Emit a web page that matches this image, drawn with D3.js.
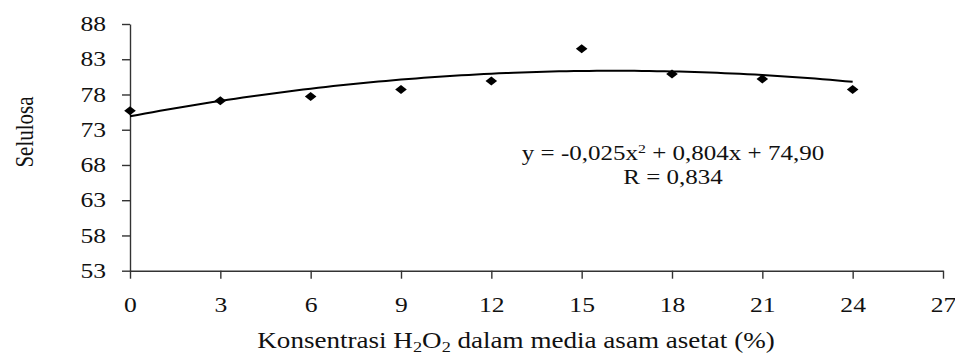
<!DOCTYPE html>
<html>
<head>
<meta charset="utf-8">
<script src="https://cdn.jsdelivr.net/npm/d3@7"></script>
<style>
  body { margin: 0; background: #fff; }
  text { font-family: "Liberation Serif", "Times New Roman", serif; fill: #111; }
</style>
</head>
<body>
<div id="drawing"></div>
<script>
// data
var konsentrasi = [0, 3, 6, 9, 12, 15, 18, 21, 24];
var selulosa = [75.7, 77.1, 77.7, 78.7, 79.9, 84.5, 80.9, 80.2, 78.7];
var xTicks = [0, 3, 6, 9, 12, 15, 18, 21, 24, 27];
var yTicks = [53, 58, 63, 68, 73, 78, 83, 88];
// trendline from the label: y = a x^2 + b x + c
var koef = [-0.025, 0.804, 74.90];

var W = 955, H = 356;
var sx = 1.22; // the original picture is stretched sideways

var svg = d3.select("#drawing")
  .append("svg")
  .attr("width", W)
  .attr("height", H);

var x = d3.scaleLinear().domain([0, 27]).range([130, 943]);
var y = d3.scaleLinear().domain([53, 88]).range([270.7, 24]);

var gy = svg.append("g")
  .attr("transform", "translate(" + x(0) + ",0)")
  .call(d3.axisLeft(y).tickValues(yTicks).tickSize(8).tickPadding(16).tickSizeOuter(0));

var gx = svg.append("g")
  .attr("transform", "translate(0," + y(53) + ")")
  .call(d3.axisBottom(x).tickValues(xTicks).tickSize(8).tickPadding(18).tickSizeOuter(0));

[gx, gy].forEach(function(g) {
  g.select(".domain").attr("stroke", "#333").attr("stroke-width", 1.4);
  g.selectAll(".tick line").attr("stroke", "#333").attr("stroke-width", 1.4);
  g.selectAll(".tick text")
    .style("font-size", "21px")
    .attr("fill", "#111");
});
// y labels: right edge stays put, glyphs widened
gy.selectAll(".tick text").each(function() {
  var t = d3.select(this);
  t.attr("x", -24 / sx).attr("transform", "scale(" + sx + ",1)");
});
gx.selectAll(".tick text").attr("transform", "scale(" + sx + ",1)");

// trendline
var xs = d3.range(0, 24.01, 0.25);
var line = d3.line()
  .x(function(d) { return x(d); })
  .y(function(d) { return y(koef[0] * d * d + koef[1] * d + koef[2]); });

svg.append("path")
  .datum(xs)
  .attr("d", line)
  .attr("fill", "none")
  .attr("stroke", "#000")
  .attr("stroke-width", 2);

// diamonds
svg.selectAll(".pt")
  .data(konsentrasi)
  .enter().append("path")
  .attr("class", "pt")
  .attr("d", "M0,-4.5L5.8,0L0,4.5L-5.8,0Z")
  .attr("transform", function(d, i) { return "translate(" + x(d) + "," + y(selulosa[i]) + ")"; })
  .attr("fill", "#000");

// equation
var eq = svg.append("g").attr("transform", "translate(673,160) scale(" + sx + ",1)");
var t1 = eq.append("text").attr("text-anchor", "middle").style("font-size", "20.5px");
t1.append("tspan").text("y = -0,025x");
t1.append("tspan").attr("dy", -7).style("font-size", "13px").text("2");
t1.append("tspan").attr("dy", 7).text(" + 0,804x + 74,90");
eq.append("text").attr("text-anchor", "middle").attr("y", 24).style("font-size", "20.5px").text("R = 0,834");

// axis titles
var xt = svg.append("g").attr("transform", "translate(516,348) scale(" + sx + ",1)");
var t2 = xt.append("text").attr("text-anchor", "middle").style("font-size", "22.2px");
t2.append("tspan").text("Konsentrasi H");
t2.append("tspan").attr("dy", 4).style("font-size", "15px").text("2");
t2.append("tspan").attr("dy", -4).text("O");
t2.append("tspan").attr("dy", 4).style("font-size", "15px").text("2");
t2.append("tspan").attr("dy", -4).text(" dalam media asam asetat (%)");

svg.append("g")
  .attr("transform", "translate(33,132) scale(" + sx + ",1) rotate(-90)")
  .append("text")
  .attr("text-anchor", "middle")
  .style("font-size", "21px")
  .text("Selulosa");
</script>
</body>
</html>
